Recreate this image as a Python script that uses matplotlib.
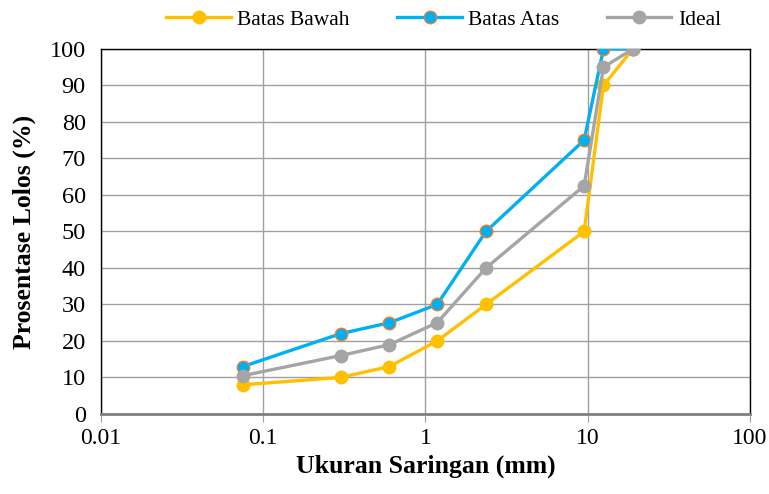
import matplotlib
matplotlib.use("Agg")
import matplotlib.pyplot as plt
from matplotlib.ticker import FixedLocator, FixedFormatter, NullLocator

plt.rcParams['font.family'] = ['Liberation Serif', 'DejaVu Serif']

sieve = [0.075, 0.3, 0.6, 1.18, 2.36, 9.5, 12.5, 19]
batas_bawah = [8, 10, 13, 20, 30, 50, 90, 100]
batas_atas = [13, 22, 25, 30, 50, 75, 100, 100]
ideal = [10.5, 16, 19, 25, 40, 62.5, 95, 100]
x_ticks = [0.01, 0.1, 1, 10, 100]
x_labels = ['0.01', '0.1', '1', '10', '100']

fig = plt.figure(figsize=(7.69, 4.94), dpi=100)
ax = fig.add_axes([0.1313, 0.162, 0.8440, 0.739])

ax.plot(sieve, batas_bawah, color='#FFC000', lw=2.4, marker='o', ms=9,
        mfc='#FFC000', mec='#FFC000', label='Batas Bawah', zorder=3)
ax.plot(sieve, batas_atas, color='#00B0F0', lw=2.4, marker='o', ms=9,
        mfc='#00B0F0', mec='#ED7D31', mew=1.0, label='Batas Atas', zorder=4)
ax.plot(sieve, ideal, color='#A5A5A5', lw=2.4, marker='o', ms=9,
        mfc='#A5A5A5', mec='#A5A5A5', label='Ideal', zorder=5)

ax.set_xscale('log')
ax.set_xlim(0.01, 100)
ax.set_ylim(0, 100)
ax.xaxis.set_major_locator(FixedLocator(x_ticks))
ax.xaxis.set_major_formatter(FixedFormatter(x_labels))
ax.xaxis.set_minor_locator(NullLocator())
ax.set_yticks(range(0, 101, 10))

ax.grid(True, which='major', color='#A0A0A0', lw=1.0)
ax.set_axisbelow(True)
for s in ['left', 'top', 'right']:
    ax.spines[s].set_color('black')
    ax.spines[s].set_linewidth(1.0)
ax.spines['bottom'].set_color('#808080')
ax.spines['bottom'].set_linewidth(2.0)

ax.tick_params(axis='x', length=6, color='#A0A0A0', labelsize=17, pad=4)
ax.tick_params(axis='y', length=0, labelsize=17.5, pad=11)

ax.set_xlabel('Ukuran Saringan (mm)', fontsize=18.5, fontweight='bold', labelpad=4)
ax.set_ylabel('Prosentase Lolos (%)', fontsize=18.5, fontweight='bold', labelpad=10)

fig.legend(loc='upper center', bbox_to_anchor=(0.577, 1.02), ncol=3, frameon=False,
           fontsize=15.5, handlelength=3.0, columnspacing=2.2, handletextpad=0.3)

fig.savefig('out.png', dpi=100)
